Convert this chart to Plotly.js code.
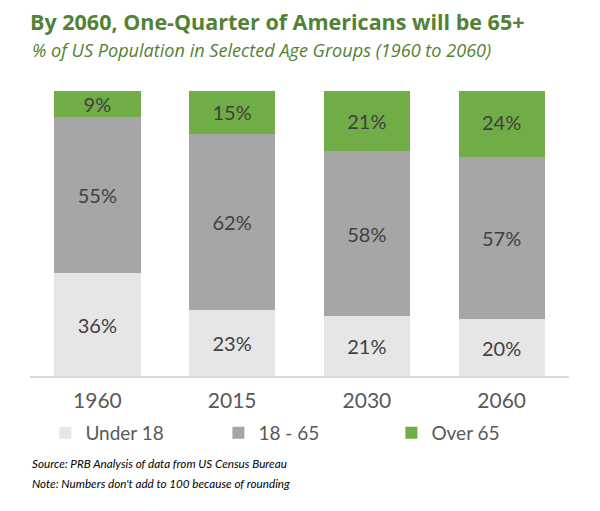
<!DOCTYPE html>
<html>
<head>
<meta charset="utf-8">
<script src="https://cdn.plot.ly/plotly-3.0.1.min.js"></script>
<style>html,body{margin:0;padding:0;background:#fff;}#chart{width:600px;height:511px;}</style>
</head>
<body>
<div id="chart"></div>
<script>
const years = ["1960", "2015", "2030", "2060"];
const under18 = [36, 23, 21, 20];
const age18to65 = [55, 62, 58, 57];
const over65 = [9, 15, 21, 24];
const seriesNames = ["Under 18", "18 - 65", "Over 65"];
const seriesColors = ["#e6e6e6", "#a6a6a6", "#70ad47"];
const title = "By 2060, One-Quarter of Americans will be 65+";
const subtitle = "% of US Population in Selected Age Groups (1960 to 2060)";
const notes = ["Source: PRB Analysis of data from US Census Bureau", "Note: Numbers don't add to 100 because of rounding"];

const FONT = "Lato, 'Open Sans', sans-serif";
const TFONT = "'Open Sans', Lato, sans-serif";
const series = [under18, age18to65, over65];
const traces = series.map((vals, i) => ({
  type: "bar",
  name: seriesNames[i],
  x: years,
  y: vals,
  marker: {color: seriesColors[i]},
  text: vals.map(v => v + "%"),
  textposition: "inside",
  insidetextanchor: "middle",
  constraintext: "none",
  textfont: {family: FONT, size: 20, color: "#404040"},
  hoverinfo: "skip"
}));

// plot area spans y = 91..376 px; helper converts a pixel row to paper units
const py = p => (376 - p) / 285;
const px = p => (p - 30) / 539;

const layout = {
  width: 600, height: 511,
  margin: {l: 30, r: 31, t: 91, b: 135},
  barmode: "stack",
  bargap: 0.36,
  paper_bgcolor: "#fff",
  plot_bgcolor: "#fff",
  font: {family: FONT, color: "#595959"},
  title: {text: "<b>" + title + "</b>", x: 30/600, xanchor: "left", xref: "container", y: 1 - 22/511, yanchor: "middle", yref: "container",
          font: {family: TFONT, size: 21.5, color: "#538135"}},
  xaxis: {type: "category", showline: true, linecolor: "#d9d9d9", linewidth: 1.5, ticks: "", ticklabelstandoff: 5,
          tickfont: {size: 21, color: "#595959"}, fixedrange: true},
  yaxis: {visible: false, range: [0, 100], fixedrange: true},
  showlegend: true,
  legend: {orientation: "h", x: 0.51, xanchor: "center", y: py(433), yanchor: "middle",
           font: {size: 19, color: "#595959"}, traceorder: "normal", entrywidth: 128, itemclick: false},
  annotations: [
    {text: "<i>" + subtitle + "</i>", x: px(30), xref: "paper", xanchor: "left", y: py(50), yref: "paper", yanchor: "middle",
     showarrow: false, font: {family: TFONT, size: 18.1, color: "#538135"}},
    {text: "<i>" + notes[0] + "</i>", x: px(30), xref: "paper", xanchor: "left", y: py(463), yref: "paper", yanchor: "middle",
     showarrow: false, font: {family: FONT, size: 11.7, color: "#000"}},
    {text: "<i>" + notes[1] + "</i>", x: px(30), xref: "paper", xanchor: "left", y: py(483), yref: "paper", yanchor: "middle",
     showarrow: false, font: {family: FONT, size: 11.7, color: "#000"}}
  ]
};

Plotly.newPlot("chart", traces, layout, {displayModeBar: false, staticPlot: true});
</script>
</body>
</html>
